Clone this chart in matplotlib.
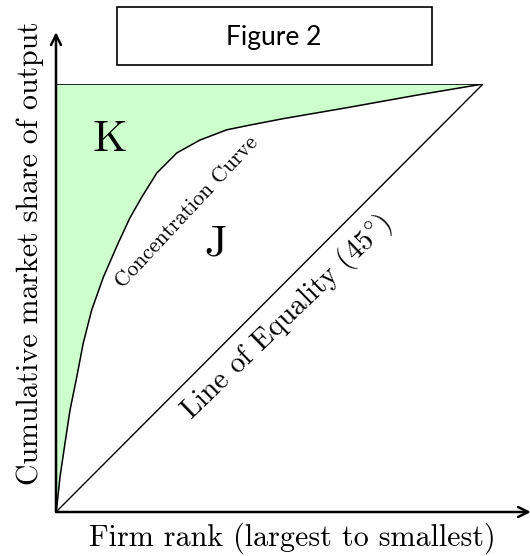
import matplotlib
matplotlib.use("Agg")
import matplotlib.pyplot as plt
from matplotlib.patches import Rectangle

plt.rcParams['mathtext.fontset'] = 'cm'
plt.rcParams['axes.unicode_minus'] = False

# Concentration curve (cumulative firm share vs cumulative market share)
curve_x = [0.0, 0.0016, 0.0094, 0.0211, 0.0328, 0.0485, 0.0639, 0.0836, 0.111,
           0.146, 0.173, 0.201, 0.236, 0.283, 0.337, 0.400, 0.454, 0.532,
           0.689, 0.845, 1.0]
curve_y = [0.0, 0.0093, 0.0818, 0.161, 0.238, 0.315, 0.395, 0.472, 0.549,
           0.629, 0.687, 0.736, 0.792, 0.839, 0.869, 0.893, 0.904, 0.919,
           0.946, 0.974, 1.0]
equality_x = [0.0, 1.0]
equality_y = [0.0, 1.0]

title_text = "Figure 2"
xlabel = "Firm rank (largest to smallest)"
ylabel = "Cumulative market share of output"

W, H = 530, 556
fig = plt.figure(figsize=(W / 100, H / 100), dpi=100)
ax = fig.add_axes([56 / W, (H - 512) / H, 427 / W, 428 / H])
ax.set_xlim(0, 1)
ax.set_ylim(0, 1)
ax.axis('off')

cm = 'cmr10'

# shaded area K
ax.fill_between(curve_x, curve_y, [1.0] * len(curve_x), color='#ccffcc', lw=0)
ax.plot(curve_x, curve_y, color='black', lw=1.1, solid_joinstyle='round')
ax.plot(equality_x, equality_y, color='black', lw=1.0)
ax.plot([0, 1], [1, 1], color='black', lw=1.2)

# axes with arrows
ax.annotate('', xy=(0, 1.121), xytext=(0, 0), xycoords='data',
            arrowprops=dict(arrowstyle='->', lw=1.8, color='black',
                            shrinkA=0, shrinkB=0, mutation_scale=18),
            annotation_clip=False)
ax.annotate('', xy=(1.112, 0), xytext=(0, 0), xycoords='data',
            arrowprops=dict(arrowstyle='->', lw=1.8, color='black',
                            shrinkA=0, shrinkB=0, mutation_scale=18),
            annotation_clip=False)

# labels
ax.text(0.126, 0.869, 'K', fontsize=32, family=cm, ha='center', va='center')
ax.text(0.375, 0.626, 'J', fontsize=32, family=cm, ha='center', va='center')
ax.text(0.307, 0.700, 'Concentration Curve', fontsize=15.5, family=cm,
        rotation=47, rotation_mode='anchor', ha='center', va='center')
ax.text(0.541, 0.455, 'Line of Equality ($45^{\\circ}$)', fontsize=21, family=cm,
        rotation=44, rotation_mode='anchor', ha='center', va='center')

fig.text(292 / W, 1 - 538 / H, xlabel, fontsize=21.7, family=cm,
         ha='center', va='center')
fig.text(30 / W, 1 - 253 / H, ylabel, fontsize=21.5, family=cm,
         ha='center', va='center', rotation=90)

# title box
fig.patches.append(Rectangle((117 / W, 1 - 65 / H), (432 - 117) / W, 58 / H,
                             transform=fig.transFigure, fill=False,
                             edgecolor='black', lw=1.2))
fig.text(274 / W, 1 - 37 / H, title_text, fontsize=19, family='Lato',
         ha='center', va='center')

fig.savefig('out.png', dpi=100)
